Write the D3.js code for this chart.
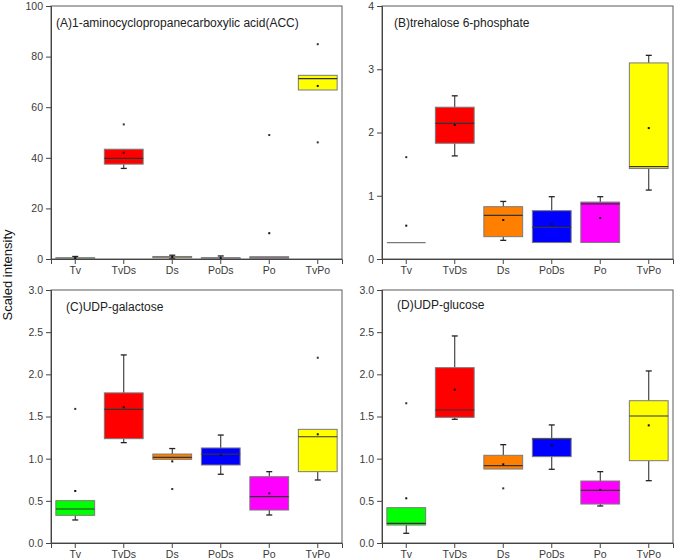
<!DOCTYPE html>
<html>
<head>
<meta charset="utf-8">
<script src="https://cdn.jsdelivr.net/npm/d3@7"></script>
<style>
  html, body { margin: 0; padding: 0; background: #fff; }
  svg { display: block; font-family: "Liberation Sans", Arial, sans-serif; }
</style>
</head>
<body>
<svg id="chart" width="675" height="559"></svg>
<script>
// ---------- data ----------
const categories = ["Tv", "TvDs", "Ds", "PoDs", "Po", "TvPo"];
const colors = ["#00ff00", "#ff0000", "#ff8000", "#0000ff", "#ff00ff", "#ffff00"];

// (A) ACC
const accLow  = [0.05, 35.8, 0.3, 0.1, 0.2, 66.8];
const accQ1   = [0.1, 37.5, 0.5, 0.1, 0.2, 66.8];
const accMed  = [0.3, 39.8, 0.9, 0.3, 0.6, 71.3];
const accQ3   = [0.5, 43.4, 1.0, 0.5, 0.9, 72.6];
const accHigh = [1.0, 43.4, 1.5, 1.2, 0.9, 72.6];
const accMean = [0.4, 42.0, 0.8, 0.35, 10.2, 68.4];
const accOut  = [[], [53.2], [], [], [49.0], [84.9, 46.1]];
const accTicks = [0, 20, 40, 60, 80, 100];

// (B) trehalose 6-phosphate
const treLow  = [0.26, 1.63, 0.295, 0.26, 0.26, 1.09];
const treQ1   = [0.26, 1.83, 0.353, 0.26, 0.26, 1.43];
const treMed  = [0.26, 2.145, 0.69, 0.50, 0.87, 1.46];
const treQ3   = [0.26, 2.40, 0.827, 0.764, 0.90, 3.10];
const treHigh = [0.26, 2.58, 0.91, 0.985, 0.985, 3.22];
const treMean = [0.527, 2.12, 0.617, 0.553, 0.648, 2.07];
const treOut  = [[1.61], [], [], [], [], []];
const treTicks = [0, 1, 2, 3, 4];

// (C) UDP-galactose
const galLow  = [0.273, 1.19, 0.992, 0.815, 0.332, 0.747];
const galQ1   = [0.328, 1.237, 0.992, 0.925, 0.391, 0.846];
const galMed  = [0.403, 1.585, 1.016, 1.055, 0.549, 1.26];
const galQ3   = [0.502, 1.78, 1.055, 1.127, 0.786, 1.348];
const galHigh = [0.502, 2.23, 1.12, 1.28, 0.846, 1.348];
const galMean = [0.617, 1.61, 0.968, 1.043, 0.589, 1.289];
const galOut  = [[1.59], [], [0.64], [], [], [2.197]];
const galTicks = [0, 0.5, 1.0, 1.5, 2.0, 2.5, 3.0];

// (D) UDP-glucose
const gluLow  = [0.115, 1.467, 0.877, 0.874, 0.439, 0.739];
const gluQ1   = [0.213, 1.49, 0.877, 1.024, 0.462, 0.976];
const gluMed  = [0.233, 1.577, 0.917, 1.233, 0.625, 1.506];
const gluQ3   = [0.419, 2.079, 1.04, 1.241, 0.735, 1.687];
const gluHigh = [0.419, 2.455, 1.166, 1.40, 0.846, 2.04];
const gluMean = [0.53, 1.818, 0.933, 1.158, 0.63, 1.395];
const gluOut  = [[1.657], [], [0.648], [], [], []];
const gluTicks = [0, 0.5, 1.0, 1.5, 2.0, 2.5, 3.0];

const titles = ["(A)1-aminocyclopropanecarboxylic acid(ACC)", "(B)trehalose 6-phosphate", "(C)UDP-galactose", "(D)UDP-glucose"];
const yLabel = "Scaled intensity";

// ---------- layout ----------
const panels = [
  { title: titles[0], low: accLow, q1: accQ1, med: accMed, q3: accQ3, high: accHigh, mean: accMean, out: accOut, ticks: accTicks, fmt: d3.format("d"),
    x0: 51, x1: 342, y0: 6, y1: 259, tx: 5, ty: 21 },
  { title: titles[1], low: treLow, q1: treQ1, med: treMed, q3: treQ3, high: treHigh, mean: treMean, out: treOut, ticks: treTicks, fmt: d3.format("d"),
    x0: 382, x1: 673, y0: 6, y1: 259, tx: 12, ty: 21 },
  { title: titles[2], low: galLow, q1: galQ1, med: galMed, q3: galQ3, high: galHigh, mean: galMean, out: galOut, ticks: galTicks, fmt: d3.format(".1f"),
    x0: 51, x1: 342, y0: 290, y1: 543, tx: 15, ty: 21 },
  { title: titles[3], low: gluLow, q1: gluQ1, med: gluMed, q3: gluQ3, high: gluHigh, mean: gluMean, out: gluOut, ticks: gluTicks, fmt: d3.format(".1f"),
    x0: 382, x1: 673, y0: 290, y1: 543, tx: 15, ty: 19 }
];

const svg = d3.select("#chart");

panels.forEach(p => {
  const g = svg.append("g");
  const yMax = p.ticks[p.ticks.length - 1];
  const x = d3.scaleBand().domain(categories).range([p.x0, p.x1]).padding(0.2).paddingOuter(0.1);
  const y = d3.scaleLinear().domain([0, yMax]).range([p.y1, p.y0]);
  const bw = x.bandwidth();
  const cx = c => x(c) + bw / 2;

  // frame (top/right)
  g.append("rect")
    .attr("x", p.x0).attr("y", p.y0)
    .attr("width", p.x1 - p.x0).attr("height", p.y1 - p.y0)
    .attr("fill", "none").attr("stroke", "#5a5a5a").attr("stroke-width", 1);

  const grp = g.selectAll("g.box").data(categories).enter().append("g").attr("class", "box");

  // whiskers
  grp.append("line")
    .attr("x1", c => cx(c)).attr("x2", c => cx(c))
    .attr("y1", (c, i) => y(p.low[i])).attr("y2", (c, i) => y(p.q1[i]))
    .attr("stroke", "#222").attr("stroke-width", 1);
  grp.append("line")
    .attr("x1", c => cx(c)).attr("x2", c => cx(c))
    .attr("y1", (c, i) => y(p.q3[i])).attr("y2", (c, i) => y(p.high[i]))
    .attr("stroke", "#222").attr("stroke-width", 1);
  // caps
  grp.filter((c, i) => p.low[i] < p.q1[i]).append("line")
    .attr("x1", c => cx(c) - 3).attr("x2", c => cx(c) + 3)
    .attr("y1", c => y(p.low[categories.indexOf(c)])).attr("y2", c => y(p.low[categories.indexOf(c)]))
    .attr("stroke", "#222").attr("stroke-width", 1.3);
  grp.filter((c, i) => p.high[i] > p.q3[i]).append("line")
    .attr("x1", c => cx(c) - 3).attr("x2", c => cx(c) + 3)
    .attr("y1", c => y(p.high[categories.indexOf(c)])).attr("y2", c => y(p.high[categories.indexOf(c)]))
    .attr("stroke", "#222").attr("stroke-width", 1.3);

  // box rect
  grp.append("rect")
    .attr("x", c => x(c)).attr("width", bw)
    .attr("y", (c, i) => y(p.q3[i]))
    .attr("height", (c, i) => Math.max(0, y(p.q1[i]) - y(p.q3[i])))
    .attr("fill", (c, i) => colors[i])
    .attr("stroke", "#7a7a7a").attr("stroke-width", 1);

  // median (grey when the box is flat)
  grp.append("line")
    .attr("x1", c => x(c)).attr("x2", c => x(c) + bw)
    .attr("y1", (c, i) => y(p.med[i])).attr("y2", (c, i) => y(p.med[i]))
    .attr("stroke", (c, i) => (y(p.q1[i]) - y(p.q3[i]) < 2 ? "#7a7a7a" : "#333"))
    .attr("stroke-width", 1.2);

  // mean
  grp.append("rect")
    .attr("x", c => cx(c) - 1).attr("width", 2)
    .attr("y", (c, i) => y(p.mean[i]) - 1).attr("height", 2)
    .attr("fill", "#111");

  // outliers
  grp.selectAll("rect.out").data((c, i) => p.out[i].map(v => ({ c, v }))).enter()
    .append("rect").attr("class", "out")
    .attr("x", d => cx(d.c) - 1).attr("width", 2)
    .attr("y", d => y(d.v) - 1).attr("height", 2)
    .attr("fill", "#333");

  // axes
  const yAxis = d3.axisLeft(y).tickValues(p.ticks).tickFormat(p.fmt).tickSize(5).tickPadding(3);
  const ya = g.append("g").attr("transform", `translate(${p.x0},0)`).call(yAxis);
  const xAxis = d3.axisBottom(x).tickSize(5).tickPadding(3);
  const xa = g.append("g").attr("transform", `translate(0,${p.y1})`).call(xAxis);
  [ya, xa].forEach(a => {
    a.select(".domain").attr("stroke", "#444");
    a.selectAll(".tick line").attr("stroke", "#444");
    a.selectAll(".tick text").attr("fill", "#3a3a3a").style("font-size", "10.5px")
      .style("font-family", "'Liberation Sans', Arial, sans-serif");
  });

  // title
  g.append("text")
    .attr("x", p.x0 + p.tx).attr("y", p.y0 + p.ty)
    .attr("fill", "#222").style("font-size", "12px")
    .text(p.title);
});

// y label
svg.append("text")
  .attr("transform", "translate(12,275) rotate(-90)")
  .attr("text-anchor", "middle")
  .attr("fill", "#111").style("font-size", "13px")
  .text(yLabel);
</script>
</body>
</html>
